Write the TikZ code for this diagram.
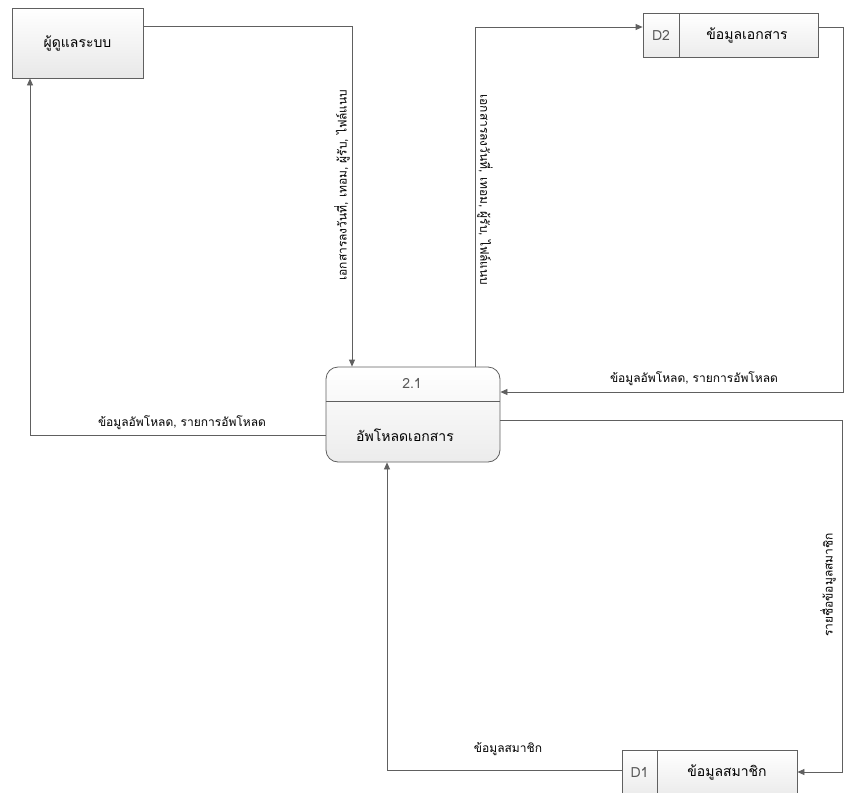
\documentclass[tikz,border=0pt]{standalone}
\usepackage{fontspec}
\newfontfamily\thaifont[Script=Thai]{Loma}
\usepackage{tikz}
\usetikzlibrary{arrows.meta}
\usetikzlibrary{positioning}

\begin{document}
\begin{tikzpicture}[x=1pt, y=-1pt, font=\thaifont\fontsize{14}{16}\selectfont,
    flow/.style={draw=gray!75!black, thick, -{Triangle[length=7pt, width=6pt]}},
    entity/.style={draw=gray!75!black, thick, top color=white, bottom color=gray!18, minimum width=131pt, minimum height=70pt},
    store/.style={draw=gray!75!black, thick, top color=white, bottom color=gray!15, minimum height=44pt},
    lbl/.style={inner sep=1pt, font=\thaifont\fontsize{12}{14}\selectfont}]
                \useasboundingbox (0,0) rectangle (844,793);
                % entity and process
                \node[entity] (admin) at (77.5,43) {ผู้ดูแลระบบ};
                \node[draw=gray!75!black, thick, rounded corners=12pt, top color=white, bottom color=gray!15, minimum width=174pt, minimum height=95pt] (proc) at (413,414.5) {};
                \draw[gray!75!black, thick] (proc.west |- 0,401) -- (proc.east |- 0,401);
                \node[text=gray!70!black] (procid) at (412,383) {2.1};
                \node (procname) at (405,435) {อัพโหลดเอกสาร};
                % data stores
                \node[store, minimum width=175pt] (D2) at (730.5,35) {};
                \draw[gray!75!black, thick] (679,13) -- (679,57);
                \node[text=gray!70!black] (D2id) at (661,35) {D2};
                \node (D2name) at (747,35) {ข้อมูลเอกสาร};
                \node[store, minimum width=175pt] (D1) at (709.5,772) {};
                \draw[gray!75!black, thick] (657,750) -- (657,794);
                \node[text=gray!70!black] (D1id) at (639.5,772) {D1};
                \node (D1name) at (727,772) {ข้อมูลสมาชิก};
                % flows
                \draw[flow] (admin.east |- 0,26) -| (proc.north -| 352,0);
                \draw[flow] (proc.west |- 0,435) -| (admin.south -| 30,0);
                \draw[flow] (proc.north -| 475,0) |- (D2.west |- 0,27);
                \draw[flow] (D2.east |- 0,27) -- (843,27) |- (proc.east |- 0,392);
                \draw[flow] (proc.east |- 0,420) -- (842,420) |- (D1.east);
                \draw[flow] (D1.west |- 0,770) -| (proc.south -| 387,0);
                % labels
                \node[lbl, rotate=90] (l1) at (342,185) {เอกสารลงวันที่, เทอม, ผู้รับ, ไฟล์แนบ};
                \node[lbl, rotate=-90] (l2) at (485,190) {เอกสารลงวันที่, เทอม, ผู้รับ, ไฟล์แนบ};
                \node[lbl] (l3) at (694,379) {ข้อมูลอัพโหลด, รายการอัพโหลด};
                \node[lbl] (l4) at (182,423) {ข้อมูลอัพโหลด, รายการอัพโหลด};
                \node[lbl, rotate=90] (l5) at (828,585) {รายชื่อข้อมูลสมาชิก};
                \node[lbl] (l6) at (508,749) {ข้อมูลสมาชิก};
            \end{tikzpicture}
\end{document}
